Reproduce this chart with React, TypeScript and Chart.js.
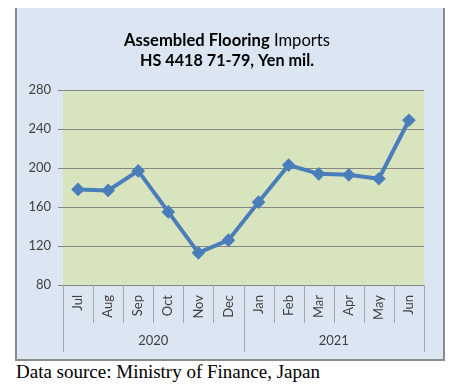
import React, { useEffect, useRef } from "react";
import { Chart, registerables } from "chart.js";

Chart.register(...registerables);

const months = ["Jul", "Aug", "Sep", "Oct", "Nov", "Dec", "Jan", "Feb", "Mar", "Apr", "May", "Jun"];
const years = ["2020", "2021"];
const imports = [178, 177, 197, 155, 113, 126, 165, 203, 194, 193, 189, 249];
const yTicks = { min: 80, max: 280, step: 40 };
const titleLine1Bold = "Assembled Flooring";
const titleLine1Normal = " Imports";
const titleLine2 = "HS 4418 71-79, Yen mil.";
const sourceNote = "Data source: Ministry of Finance, Japan";

const FONT = "Lato, 'Open Sans', sans-serif";

const bgPlugin = {
  id: "plotBg",
  beforeDraw(chart: any) {
    const { ctx, chartArea } = chart;
    ctx.save();
    ctx.fillStyle = "#d7e4bd";
    ctx.fillRect(chartArea.left, chartArea.top, chartArea.right - chartArea.left, chartArea.bottom - chartArea.top);
    ctx.restore();
  },
};

const titlePlugin = {
  id: "mixedTitle",
  afterDraw(chart: any) {
    const { ctx } = chart;
    const cx = 210;
    ctx.save();
    ctx.fillStyle = "#000";
    ctx.textBaseline = "middle";
    const bold = `bold 16.6px ${FONT}`;
    const normal = `16.6px ${FONT}`;
    ctx.font = bold;
    const w1 = ctx.measureText(titleLine1Bold).width;
    ctx.font = normal;
    const w2 = ctx.measureText(titleLine1Normal).width;
    const start = cx - (w1 + w2) / 2;
    ctx.textAlign = "left";
    ctx.font = bold;
    ctx.fillText(titleLine1Bold, start, 33);
    ctx.font = normal;
    ctx.fillText(titleLine1Normal, start + w1, 33);
    ctx.font = `bold 16.2px ${FONT}`;
    ctx.textAlign = "center";
    ctx.fillText(titleLine2, cx, 53);
    ctx.restore();
  },
};

const sepPlugin = {
  id: "separators",
  afterDraw(chart: any) {
    const { ctx } = chart;
    const x = chart.scales.x;
    const x2 = chart.scales.x2;
    ctx.save();
    ctx.strokeStyle = "#a6a6a6";
    ctx.lineWidth = 1;
    const n = months.length;
    for (let i = 1; i < n; i++) {
      const px = Math.round((x.getPixelForValue(i - 1) + x.getPixelForValue(i)) / 2) + 0.5;
      ctx.beginPath();
      ctx.moveTo(px, x.top);
      ctx.lineTo(px, x.bottom);
      ctx.stroke();
    }
    const bounds = [x2.left, (x2.getPixelForValue(0) + x2.getPixelForValue(1)) / 2, x2.right];
    bounds.forEach((b) => {
      const px = Math.round(b) + 0.5;
      ctx.beginPath();
      ctx.moveTo(px, x.top);
      ctx.lineTo(px, x2.bottom);
      ctx.stroke();
    });
    ctx.restore();
  },
};

export default function App() {
  const ref = useRef<HTMLCanvasElement>(null);
  useEffect(() => {
    if (!ref.current) return;
    const chart = new Chart(ref.current, {
      type: "line",
      data: {
        labels: months,
        datasets: [
          {
            data: imports,
            borderColor: "#4a7ebb",
            backgroundColor: "#4a7ebb",
            borderWidth: 4,
            pointStyle: "rectRot",
            pointRadius: 4,
            pointBackgroundColor: "#4a7ebb",
            pointBorderColor: "#4a7ebb",
            tension: 0,
            xAxisID: "x",
          },
        ],
      },
      options: {
        animation: false,
        responsive: false,
        layout: { padding: { left: 0, right: 19, top: 82, bottom: 7 } },
        plugins: { legend: { display: false }, title: { display: false }, tooltip: { enabled: false } },
        scales: {
          y: {
            min: yTicks.min,
            max: yTicks.max,
            afterFit: (s: any) => {
              s.width = 46;
            },
            border: { display: false },
            grid: { color: "#868686", lineWidth: 1, drawTicks: true, tickLength: 5, tickColor: "#868686" },
            ticks: { stepSize: yTicks.step, padding: 7, color: "#404040", font: { family: FONT, size: 13 } },
          },
          x: {
            type: "category",
            position: "bottom",
            offset: true,
            weight: 0,
            afterFit: (s: any) => {
              s.height = 38;
            },
            border: { display: false },
            grid: { display: false, drawTicks: false },
            ticks: { maxRotation: 90, minRotation: 90, padding: 10, autoSkip: false, color: "#404040", font: { family: FONT, size: 13 } },
          },
          x2: {
            type: "category",
            position: "bottom",
            labels: years,
            offset: true,
            weight: 1,
            afterFit: (s: any) => {
              s.height = 29;
            },
            border: { display: false },
            grid: { display: false, drawTicks: false },
            ticks: { padding: 10, color: "#404040", font: { family: FONT, size: 13 } },
          },
        },
      },
      plugins: [bgPlugin, titlePlugin, sepPlugin],
    });
    return () => chart.destroy();
  }, []);

  return (
    <div>
      <div
        style={{
          position: "relative",
          marginLeft: 7,
          width: 426,
          height: 351,
          background: "#dce6f2",
          borderLeft: "2px solid #8b8b8b",
          borderRight: "2px solid #8b8b8b",
          borderBottom: "2px solid #8b8b8b",
        }}
      >
        <canvas ref={ref} width={426} height={351} style={{ display: "block" }} />
      </div>
      <div
        style={{
          marginLeft: 8,
          marginTop: 0,
          fontFamily: "'Liberation Serif', 'Times New Roman', serif",
          fontSize: 19,
          lineHeight: "22px",
          color: "#000",
        }}
      >
        {sourceNote}
      </div>
    </div>
  );
}
